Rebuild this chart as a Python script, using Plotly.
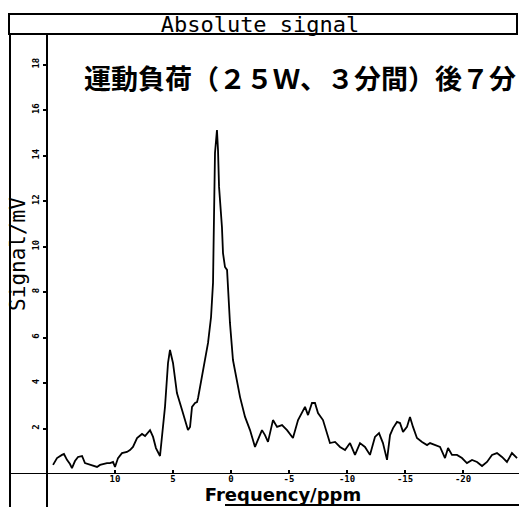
import plotly.graph_objects as go

# Chemical shift (ppm) and absolute signal (mV) of the spectrum
ppm = [15.34, 15.0, 14.57, 14.4, 14.14, 13.88, 13.71, 13.45, 13.19, 12.84, 12.59, 12.16,
       11.81, 11.55, 11.29, 11.03, 10.69, 10.43, 10.17, 10.0, 9.74, 9.40, 8.97, 8.71,
       8.45, 8.10, 7.67, 7.41, 6.98, 6.72, 6.47, 6.12, 5.86, 5.69, 5.43, 5.26, 5.0,
       4.66, 4.22, 3.71, 3.53, 3.36, 3.10, 2.93, 2.84, 2.50, 2.24, 1.98, 1.72, 1.55,
       1.50, 1.45, 1.38, 1.21, 1.12, 1.03, 0.78, 0.69, 0.52, 0.34, 0.09, -0.17, -0.52,
       -0.78, -1.21, -1.64, -2.07, -2.33, -2.67, -2.93, -3.19, -3.62, -3.97, -4.40,
       -4.83, -5.34, -5.78, -6.38, -6.64, -6.98, -7.24, -7.5, -7.93, -8.53, -8.97,
       -9.40, -9.83, -10.26, -10.69, -11.12, -11.55, -11.98, -12.41, -12.76, -13.1,
       -13.45, -13.71, -13.97, -14.31, -14.57, -14.83, -15.17, -15.43, -15.69, -16.03,
       -16.47, -16.9, -17.16, -17.59, -18.02, -18.45, -18.71, -19.05, -19.48, -19.91,
       -20.34, -20.78, -21.21, -21.64, -22.07, -22.5, -22.93, -23.36, -23.79, -24.22,
       -24.66]
signal = [0.40, 0.70, 0.84, 0.88, 0.62, 0.44, 0.26, 0.57, 0.75, 0.79, 0.48, 0.40,
          0.35, 0.31, 0.40, 0.44, 0.48, 0.48, 0.53, 0.31, 0.70, 0.92, 0.97, 1.05,
          1.19, 1.58, 1.76, 1.67, 1.93, 1.63, 1.14, 0.79, 2.07, 2.95, 4.88, 5.45, 4.88,
          3.56, 2.81, 1.93, 2.07, 2.95, 3.12, 3.16, 3.34, 4.26, 4.88, 5.76, 6.90, 8.40,
          10.15, 12.35, 14.11, 15.12, 14.24, 12.62, 10.86, 9.71, 9.10, 8.97, 6.64, 5.01, 4.0,
          3.38, 2.51, 1.93, 1.19, 1.49, 1.93, 1.71, 1.41, 2.37, 2.07, 2.15,
          1.93, 1.58, 2.37, 2.95, 2.59, 3.12, 3.12, 2.68, 2.37, 1.36, 1.41,
          1.19, 1.05, 1.36, 0.84, 1.36, 1.19, 0.84, 1.63, 1.80, 1.36,
          0.62, 1.71, 2.02, 2.29, 2.24, 1.85, 2.07, 2.51, 2.07, 1.58,
          1.41, 1.27, 1.36, 1.27, 1.19, 0.70, 1.14, 0.84, 0.84, 0.70,
          0.48, 0.62, 0.53, 0.35, 0.53, 0.84, 0.92, 0.75, 0.53, 0.92,
          0.70]

x_ticks = [10, 5, 0, -5, -10, -15, -20]
y_ticks = [2, 4, 6, 8, 10, 12, 14, 16, 18]

title_text = "Absolute signal"
x_title = "Frequency/ppm"
y_title = "Signal/mV"
note_text = "運動負荷（２５Ｗ、３分間）後７分"

W, H = 519, 507
ML, MR, MT, MB = 47, 0, 34, 33
PW, PH = W - ML - MR, H - MT - MB
PX_PER_PPM = 11.6
PX_PER_MV = 22.75
ZERO_PPM_PX = 231


def px_x(p):
    return (p - ML) / PW


def px_y(p):
    return (H - MB - p) / PH


label_font = dict(family="DejaVu Sans Mono", size=9, color="black", weight="bold")
block_font = dict(family="DejaVu Sans Mono", size=21, color="black")
x_title_font = dict(family="DejaVu Sans", size=18, color="black", weight="bold")

fig = go.Figure(
    go.Scatter(x=ppm, y=signal, mode="lines",
               line=dict(color="black", width=1.8), hoverinfo="skip")
)

line_style = dict(color="black", width=2)
shapes = [
    # title box
    dict(type="rect", xref="paper", yref="paper",
         x0=px_x(9), x1=px_x(517), y0=px_y(34), y1=px_y(14), line=line_style),
    # left frame edge
    dict(type="line", xref="paper", yref="paper",
         x0=px_x(10), x1=px_x(10), y0=px_y(34), y1=px_y(507), line=line_style),
    # vertical axis line, running past the baseline
    dict(type="line", xref="paper", yref="paper",
         x0=0, x1=0, y0=1, y1=px_y(507), line=line_style),
    # horizontal axis line at zero signal
    dict(type="line", xref="paper", yref="y",
         x0=px_x(10), x1=1, y0=0, y1=0, line=line_style),
    # bottom frame edge
    dict(type="line", xref="paper", yref="paper",
         x0=px_x(225), x1=1, y0=px_y(505), y1=px_y(505), line=line_style),
]

fig.update_layout(
    width=W, height=H,
    margin=dict(l=ML, r=MR, t=MT, b=MB),
    paper_bgcolor="white", plot_bgcolor="white",
    showlegend=False,
    shapes=shapes,
    title=dict(text=title_text, x=260 / W, xanchor="center",
               y=1 - 24 / H, yanchor="middle", yref="container",
               font=dict(block_font, size=22)),
    xaxis=dict(range=[(ZERO_PPM_PX - ML) / PX_PER_PPM,
                      -(W - ZERO_PPM_PX) / PX_PER_PPM],
               tickvals=x_ticks, ticktext=[str(v) for v in x_ticks],
               ticks="inside", ticklen=4, tickwidth=1.5, tickcolor="black",
               ticklabelstandoff=-2,
               tickfont=label_font, showgrid=False, zeroline=False,
               showline=False,
               title=dict(text=x_title, font=x_title_font, standoff=0)),
    yaxis=dict(range=[0, PH / PX_PER_MV],
               tickvals=y_ticks, ticktext=[str(v) for v in y_ticks],
               tickangle=-90,
               ticks="outside", ticklen=3, tickwidth=1.5, tickcolor="black",
               tickfont=label_font, showgrid=False, zeroline=False,
               showline=False,
               title=dict(text=y_title, font=block_font, standoff=0)),
    annotations=[
        dict(text=note_text, xref="paper", yref="paper",
             x=px_x(300), y=px_y(77), xanchor="center", yanchor="middle",
             showarrow=False,
             font=dict(family="Noto Sans CJK JP", size=27, color="black",
                       weight="bold")),
    ],
)

fig.write_html("out.html")
